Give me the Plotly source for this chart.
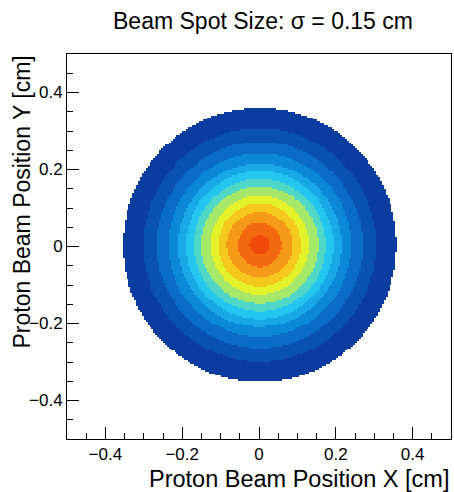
import numpy as np
import plotly.graph_objects as go

# ---- data ----
title_text = "Beam Spot Size: σ = 0.15 cm"
x_title = "Proton Beam Position X [cm]"
y_title = "Proton Beam Position Y [cm]"

# histogram binning (cm)
bin_lo, bin_hi, n_bins = -0.5, 0.5, 200
beam_center_x = 0.002
beam_center_y = 0.004

# outer radius (cm) of each colour band, outermost first
band_edges_cm = [0.356, 0.303, 0.268, 0.238, 0.212, 0.192, 0.172,
                 0.152, 0.128, 0.108, 0.085, 0.057, 0.025]
band_colors = ["#0b3da1", "#0952b2", "#0a6cc6", "#0b89d7", "#17a9e6",
               "#22c6ef", "#4fd8c8", "#a6e86a", "#e4f22a", "#f4c81c",
               "#f49a16", "#f46810", "#f04808"]

tick_vals = [-0.4, -0.2, 0, 0.2, 0.4]
tick_text = ["\u22120.4", "\u22120.2", "0", "0.2", "0.4"]

# ---- build the histogram table ----
edges = np.linspace(bin_lo, bin_hi, n_bins + 1)
centers = 0.5 * (edges[:-1] + edges[1:])
X, Y = np.meshgrid(centers, centers)
R = np.hypot(X - beam_center_x, Y - beam_center_y)
Z = np.full(R.shape, np.nan)
for i, r_out in enumerate(band_edges_cm):
    Z[R <= r_out] = i

n = len(band_colors)
cs = []
for i, c in enumerate(band_colors):
    cs.append([i / n, c])
    cs.append([(i + 1) / n, c])

fig = go.Figure(go.Heatmap(
    x=centers, y=centers, z=Z,
    colorscale=cs, zmin=-0.5, zmax=n - 0.5,
    showscale=False, hoverinfo="skip",
))

font = "Liberation Sans, Arial, Helvetica, sans-serif"
axis_common = dict(
    range=[bin_lo, bin_hi],
    tickvals=tick_vals, ticktext=tick_text,
    ticks="inside", ticklen=12, tickwidth=1, tickcolor="black",
    minor=dict(ticks="inside", dtick=0.05, tick0=0, ticklen=6,
               tickwidth=1, tickcolor="black", showgrid=False),
    showline=True, linecolor="black", linewidth=1, mirror=True,
    showgrid=False, zeroline=False,
    tickfont=dict(family=font, size=17, color="black"),
)

fig.update_layout(
    width=454, height=492,
    margin=dict(l=67, r=3, t=54, b=53),
    paper_bgcolor="white", plot_bgcolor="white",
    xaxis=dict(**axis_common, ticklabelstandoff=0),
    yaxis=dict(**axis_common, ticklabelstandoff=0),
    title=dict(text=title_text, x=263 / 454, xref="container", xanchor="center",
               y=1 - 13 / 492, yref="container", yanchor="top",
               font=dict(family=font, size=23, color="black")),
    annotations=[
        dict(text=x_title, xref="paper", yref="paper", x=1.0, y=0,
             xanchor="right", yanchor="top", yshift=-25, showarrow=False,
             font=dict(family=font, size=23.5, color="black")),
        dict(text=y_title, xref="paper", yref="paper", x=0, y=1.0,
             xanchor="left", yanchor="top", xshift=-61, showarrow=False,
             textangle=-90,
             font=dict(family=font, size=23, color="black")),
    ],
)

fig.write_html("out.html")
